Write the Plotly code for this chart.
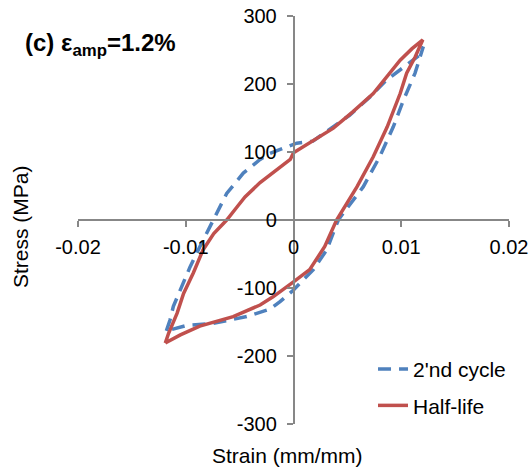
import plotly.graph_objects as go

# 2'nd cycle (blue dashed) loop
cyc2_strain = [-0.0118, -0.01146, -0.01115, -0.01053, -0.0096, -0.00868, -0.00806, -0.00744,
               -0.0062, -0.00466, -0.0031, -0.00218, -0.0003, 0.0003, 0.0018, 0.0034, 0.0052,
               0.0071, 0.00865, 0.0105, 0.01174, 0.01205,
               0.01128, 0.0102, 0.00926, 0.0080, 0.00648, 0.00462, 0.00416, 0.00308, 0.00184,
               0.0006, 0.0, -0.00125, -0.00218, -0.00434, -0.00744, -0.0099, -0.0118]
cyc2_stress = [-163, -147, -127, -103, -69, -39, -20, 0,
               39, 69, 89, 98, 110, 113, 116, 134, 154,
               181, 206, 228, 243, 255,
               216, 176, 137, 93, 49, 10, 0, -44, -73,
               -93, -103, -120, -131, -142, -152, -155, -163]

# Half-life (red solid) loop
half_strain = [-0.0119, -0.0116, -0.0108, -0.0102, -0.0093, -0.0084, -0.0074, -0.0062,
               -0.0053, -0.0045, -0.0031, -0.0015, -0.0003, 0.0, 0.0015, 0.0037, 0.0055, 0.0074,
               0.0099, 0.0110, 0.0120,
               0.0113, 0.0105, 0.0099, 0.0087, 0.0074, 0.0059, 0.0040, 0.0029, 0.0015,
               0.0, -0.0019, -0.0031, -0.0056, -0.0087, -0.0105, -0.0119]
half_stress = [-181, -167, -137, -108, -78, -44, -20, 0,
               18, 34, 55, 74, 89, 99, 113, 135, 159, 186,
               235, 252, 265,
               240, 216, 186, 137, 93, 49, 0, -39, -73,
               -91, -113, -125, -142, -156, -169, -181]

series_names = ["2'nd cycle", "Half-life"]
x_ticks = [-0.02, -0.01, 0, 0.01, 0.02]
x_ticklabels = ["-0.02", "-0.01", "0", "0.01", "0.02"]
y_ticks = [-300, -200, -100, 0, 100, 200, 300]
y_ticklabels = ["-300", "-200", "-100", "0", "100", "200", "300"]

FONT = "Liberation Sans, Arial, sans-serif"
AXC = "#878787"

fig = go.Figure()
fig.add_trace(go.Scatter(x=cyc2_strain, y=cyc2_stress, mode="lines", name=series_names[0],
                         legendgroup="a",
                         line=dict(color="#4F81BD", width=3.5, dash="13px,8px")))
fig.add_trace(go.Scatter(x=half_strain, y=half_stress, mode="lines", name=series_names[1],
                         legendgroup="b",
                         line=dict(color="#C0504D", width=3.5)))

axis_common = dict(showline=True, linecolor=AXC, linewidth=1.5, ticks="outside", ticklen=6,
                   tickcolor=AXC, tickwidth=1.5, showgrid=False, zeroline=False,
                   tickfont=dict(family=FONT, size=20, color="black"), anchor="free",
                   position=0.5, automargin=False, ticklabeloverflow="allow")
fig.update_xaxes(range=[-0.02, 0.02], tickvals=x_ticks, ticktext=x_ticklabels,
                 ticklabelstandoff=3, **axis_common)
fig.update_yaxes(range=[-300, 300], tickvals=y_ticks, ticktext=y_ticklabels,
                 ticklabelstandoff=6, **axis_common)

fig.update_layout(
    width=531, height=470,
    margin=dict(l=78, r=22, t=16, b=46),
    paper_bgcolor="white", plot_bgcolor="white",
    font=dict(family=FONT, size=20, color="black"),
    showlegend=True,
    legend=dict(x=0.6845, y=0.184, xanchor="left", yanchor="top",
                font=dict(family=FONT, size=21, color="black"),
                bgcolor="rgba(0,0,0,0)", tracegroupgap=6, traceorder="grouped"),
    annotations=[
        dict(text="Strain (mm/mm)", xref="paper", yref="paper", x=0.485, y=-0.076,
             xanchor="center", yanchor="middle", showarrow=False,
             font=dict(family=FONT, size=21, color="black")),
        dict(text="Stress (MPa)", xref="paper", yref="paper", x=-0.1346, y=0.485,
             xanchor="center", yanchor="middle", textangle=-90, showarrow=False,
             font=dict(family=FONT, size=21, color="black")),
        dict(text="<b>(c) ε<sub>amp</sub>=1.2%</b>", xref="paper", yref="paper",
             x=-0.1276, y=0.929, xanchor="left", yanchor="middle", showarrow=False,
             font=dict(family=FONT, size=24, color="black")),
    ],
)

fig.write_html("out.html", config={"displayModeBar": False},
               post_script="document.body.style.margin='0';document.body.style.overflow='hidden';")
